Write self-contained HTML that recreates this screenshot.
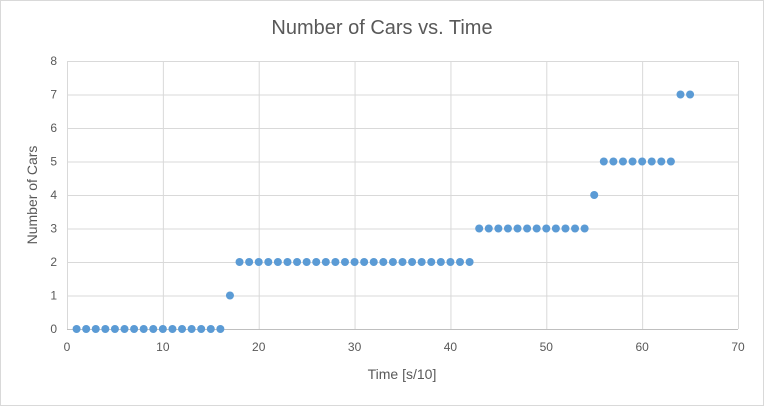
<!DOCTYPE html>
<html><head><meta charset="utf-8"><style>
body{margin:0;background:#fff;}
svg{display:block;font-family:"Liberation Sans",Arial,sans-serif;}
</style></head><body>
<svg id="chart" width="764" height="406">
<rect x="0.5" y="0.5" width="763" height="405" fill="#fff" stroke="#d9d9d9"/>
<text x="382" y="34" text-anchor="middle" font-size="20" fill="#595959">Number of Cars vs. Time</text>
<g id="grid"></g><g id="ticks"></g><g id="points"></g>
<text x="402" y="379" text-anchor="middle" font-size="14" fill="#595959">Time [s/10]</text>
<text transform="translate(37,195) rotate(-90)" text-anchor="middle" font-size="14" fill="#595959">Number of Cars</text>
</svg>
<script>
const xs = [1,2,3,4,5,6,7,8,9,10,11,12,13,14,15,16,17,18,19,20,21,22,23,24,25,26,27,28,29,30,31,32,33,34,35,36,37,38,39,40,41,42,43,44,45,46,47,48,49,50,51,52,53,54,55,56,57,58,59,60,61,62,63,64,65];
const ys = [0,0,0,0,0,0,0,0,0,0,0,0,0,0,0,0,1,2,2,2,2,2,2,2,2,2,2,2,2,2,2,2,2,2,2,2,2,2,2,2,2,2,3,3,3,3,3,3,3,3,3,3,3,3,4,5,5,5,5,5,5,5,5,7,7];
const xTicks = [0,10,20,30,40,50,60,70];
const yTicks = [0,1,2,3,4,5,6,7,8];
const X0=67,X1=738,Y0=329,Y1=61;
const sx=v=>X0+(v-0)/70*(X1-X0);
const sy=v=>Y0-(v-0)/8*(Y0-Y1);
const NS="http://www.w3.org/2000/svg";
const grid=document.getElementById('grid'),ticks=document.getElementById('ticks'),pts=document.getElementById('points');
function mk(tag,attrs,parent){const e=document.createElementNS(NS,tag);for(const k in attrs)e.setAttribute(k,attrs[k]);parent.appendChild(e);return e;}
yTicks.forEach(v=>{
  const l=mk('line',{x1:X0,x2:X1,y1:sy(v)+0.5,y2:sy(v)+0.5,stroke:v===0?'#bfbfbf':'#d9d9d9'},grid);
  
  
  const t=mk('text',{x:X0-10,y:sy(v)+4,'text-anchor':'end','font-size':12,fill:'#595959'},ticks);
  t.textContent=v;
  
  
});
xTicks.forEach(v=>{
  const l=mk('line',{x1:sx(v)+0.5,x2:sx(v)+0.5,y1:Y1,y2:Y0,stroke:'#d9d9d9'},grid);
  
  
  const t=mk('text',{x:sx(v),y:Y0+22,'text-anchor':'middle','font-size':12,fill:'#595959'},ticks);
  t.textContent=v;
  
  
});
xs.forEach((x,i)=>{
  const c=mk('circle',{cx:sx(x),cy:sy(ys[i]),r:4,fill:'#5b9bd5'},pts);
  
  
});
</script>
</body></html>
